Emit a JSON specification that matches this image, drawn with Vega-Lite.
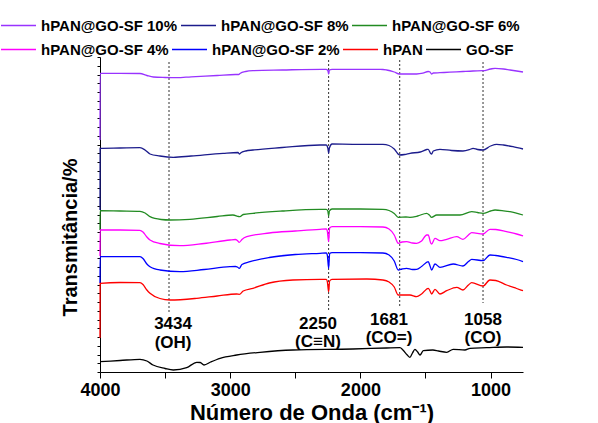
{
"$schema": "https://vega.github.io/schema/vega-lite/v6.json",
"width": 423, "height": 315,
"autosize": "none",
"padding": {"left": 100, "top": 57, "right": 75, "bottom": 51},
"config": {"view": {"stroke": null}, "font": "Liberation Sans"},
"datasets": {"spectra": [
{"s":"hPAN@GO-SF 10%","wn":4000,"t":232},{"s":"hPAN@GO-SF 10%","wn":3999,"t":298.7},{"s":"hPAN@GO-SF 10%","wn":3846,"t":298.7},{"s":"hPAN@GO-SF 10%","wn":3693,"t":298.5},{"s":"hPAN@GO-SF 10%","wn":3640,"t":296.5},{"s":"hPAN@GO-SF 10%","wn":3590,"t":295},{"s":"hPAN@GO-SF 10%","wn":3500,"t":294.5},{"s":"hPAN@GO-SF 10%","wn":3411,"t":294.3},{"s":"hPAN@GO-SF 10%","wn":3300,"t":295.2},{"s":"hPAN@GO-SF 10%","wn":3100,"t":296.5},{"s":"hPAN@GO-SF 10%","wn":2960,"t":297.5},{"s":"hPAN@GO-SF 10%","wn":2935,"t":297.5},{"s":"hPAN@GO-SF 10%","wn":2925,"t":298.5},{"s":"hPAN@GO-SF 10%","wn":2880,"t":300.5},{"s":"hPAN@GO-SF 10%","wn":2825,"t":301.3},{"s":"hPAN@GO-SF 10%","wn":2600,"t":302},{"s":"hPAN@GO-SF 10%","wn":2300,"t":302.7},{"s":"hPAN@GO-SF 10%","wn":2264,"t":302.7},{"s":"hPAN@GO-SF 10%","wn":2250,"t":301.5},{"s":"hPAN@GO-SF 10%","wn":2244,"t":298},{"s":"hPAN@GO-SF 10%","wn":2238,"t":302},{"s":"hPAN@GO-SF 10%","wn":2218,"t":302.7},{"s":"hPAN@GO-SF 10%","wn":2057,"t":302.7},{"s":"hPAN@GO-SF 10%","wn":1827,"t":302.5},{"s":"hPAN@GO-SF 10%","wn":1798,"t":302},{"s":"hPAN@GO-SF 10%","wn":1740,"t":300},{"s":"hPAN@GO-SF 10%","wn":1700,"t":298},{"s":"hPAN@GO-SF 10%","wn":1645,"t":298},{"s":"hPAN@GO-SF 10%","wn":1568,"t":298},{"s":"hPAN@GO-SF 10%","wn":1520,"t":298.8},{"s":"hPAN@GO-SF 10%","wn":1479,"t":300.5},{"s":"hPAN@GO-SF 10%","wn":1465,"t":300},{"s":"hPAN@GO-SF 10%","wn":1453,"t":298},{"s":"hPAN@GO-SF 10%","wn":1440,"t":299},{"s":"hPAN@GO-SF 10%","wn":1389,"t":299.3},{"s":"hPAN@GO-SF 10%","wn":1312,"t":299.8},{"s":"hPAN@GO-SF 10%","wn":1212,"t":300.5},{"s":"hPAN@GO-SF 10%","wn":1135,"t":301},{"s":"hPAN@GO-SF 10%","wn":1058,"t":301.3},{"s":"hPAN@GO-SF 10%","wn":1000,"t":303},{"s":"hPAN@GO-SF 10%","wn":966,"t":303.7},{"s":"hPAN@GO-SF 10%","wn":900,"t":303},{"s":"hPAN@GO-SF 10%","wn":851,"t":302},{"s":"hPAN@GO-SF 10%","wn":800,"t":301},{"s":"hPAN@GO-SF 10%","wn":751,"t":300},
{"s":"hPAN@GO-SF 8%","wn":4000,"t":162},{"s":"hPAN@GO-SF 8%","wn":3999,"t":223.7},{"s":"hPAN@GO-SF 8%","wn":3846,"t":224},{"s":"hPAN@GO-SF 8%","wn":3693,"t":224.3},{"s":"hPAN@GO-SF 8%","wn":3654,"t":222},{"s":"hPAN@GO-SF 8%","wn":3616,"t":218},{"s":"hPAN@GO-SF 8%","wn":3540,"t":216},{"s":"hPAN@GO-SF 8%","wn":3437,"t":214.7},{"s":"hPAN@GO-SF 8%","wn":3300,"t":216},{"s":"hPAN@GO-SF 8%","wn":3055,"t":218.7},{"s":"hPAN@GO-SF 8%","wn":2940,"t":219.5},{"s":"hPAN@GO-SF 8%","wn":2930,"t":218},{"s":"hPAN@GO-SF 8%","wn":2920,"t":219},{"s":"hPAN@GO-SF 8%","wn":2880,"t":221},{"s":"hPAN@GO-SF 8%","wn":2825,"t":222},{"s":"hPAN@GO-SF 8%","wn":2600,"t":224.5},{"s":"hPAN@GO-SF 8%","wn":2310,"t":227},{"s":"hPAN@GO-SF 8%","wn":2262,"t":227},{"s":"hPAN@GO-SF 8%","wn":2250,"t":224},{"s":"hPAN@GO-SF 8%","wn":2244,"t":218.7},{"s":"hPAN@GO-SF 8%","wn":2238,"t":224},{"s":"hPAN@GO-SF 8%","wn":2218,"t":228},{"s":"hPAN@GO-SF 8%","wn":2057,"t":227.7},{"s":"hPAN@GO-SF 8%","wn":1827,"t":227.7},{"s":"hPAN@GO-SF 8%","wn":1780,"t":226.5},{"s":"hPAN@GO-SF 8%","wn":1740,"t":223},{"s":"hPAN@GO-SF 8%","wn":1700,"t":217},{"s":"hPAN@GO-SF 8%","wn":1660,"t":217.5},{"s":"hPAN@GO-SF 8%","wn":1619,"t":218.7},{"s":"hPAN@GO-SF 8%","wn":1540,"t":220},{"s":"hPAN@GO-SF 8%","wn":1490,"t":222.5},{"s":"hPAN@GO-SF 8%","wn":1479,"t":222.7},{"s":"hPAN@GO-SF 8%","wn":1460,"t":218.5},{"s":"hPAN@GO-SF 8%","wn":1453,"t":218},{"s":"hPAN@GO-SF 8%","wn":1440,"t":221},{"s":"hPAN@GO-SF 8%","wn":1389,"t":222.7},{"s":"hPAN@GO-SF 8%","wn":1300,"t":221.5},{"s":"hPAN@GO-SF 8%","wn":1212,"t":221},{"s":"hPAN@GO-SF 8%","wn":1160,"t":222.5},{"s":"hPAN@GO-SF 8%","wn":1135,"t":223.7},{"s":"hPAN@GO-SF 8%","wn":1100,"t":222.5},{"s":"hPAN@GO-SF 8%","wn":1058,"t":222},{"s":"hPAN@GO-SF 8%","wn":1000,"t":226},{"s":"hPAN@GO-SF 8%","wn":953,"t":227.7},{"s":"hPAN@GO-SF 8%","wn":900,"t":227},{"s":"hPAN@GO-SF 8%","wn":828,"t":225.3},{"s":"hPAN@GO-SF 8%","wn":751,"t":223},
{"s":"hPAN@GO-SF 6%","wn":4000,"t":142},{"s":"hPAN@GO-SF 6%","wn":3999,"t":161.3},{"s":"hPAN@GO-SF 6%","wn":3846,"t":161},{"s":"hPAN@GO-SF 6%","wn":3693,"t":160.7},{"s":"hPAN@GO-SF 6%","wn":3654,"t":159},{"s":"hPAN@GO-SF 6%","wn":3616,"t":155.3},{"s":"hPAN@GO-SF 6%","wn":3530,"t":152.5},{"s":"hPAN@GO-SF 6%","wn":3462,"t":152},{"s":"hPAN@GO-SF 6%","wn":3309,"t":152.7},{"s":"hPAN@GO-SF 6%","wn":3100,"t":155.5},{"s":"hPAN@GO-SF 6%","wn":2979,"t":157},{"s":"hPAN@GO-SF 6%","wn":2935,"t":155.5},{"s":"hPAN@GO-SF 6%","wn":2925,"t":155.3},{"s":"hPAN@GO-SF 6%","wn":2900,"t":157.5},{"s":"hPAN@GO-SF 6%","wn":2825,"t":158.7},{"s":"hPAN@GO-SF 6%","wn":2600,"t":161},{"s":"hPAN@GO-SF 6%","wn":2310,"t":162.7},{"s":"hPAN@GO-SF 6%","wn":2262,"t":162.7},{"s":"hPAN@GO-SF 6%","wn":2250,"t":161},{"s":"hPAN@GO-SF 6%","wn":2244,"t":156},{"s":"hPAN@GO-SF 6%","wn":2238,"t":161},{"s":"hPAN@GO-SF 6%","wn":2218,"t":163},{"s":"hPAN@GO-SF 6%","wn":2000,"t":163},{"s":"hPAN@GO-SF 6%","wn":1827,"t":162.7},{"s":"hPAN@GO-SF 6%","wn":1780,"t":161.5},{"s":"hPAN@GO-SF 6%","wn":1740,"t":158.5},{"s":"hPAN@GO-SF 6%","wn":1709,"t":154.7},{"s":"hPAN@GO-SF 6%","wn":1650,"t":155},{"s":"hPAN@GO-SF 6%","wn":1619,"t":154.7},{"s":"hPAN@GO-SF 6%","wn":1560,"t":156},{"s":"hPAN@GO-SF 6%","wn":1491,"t":158.7},{"s":"hPAN@GO-SF 6%","wn":1470,"t":157},{"s":"hPAN@GO-SF 6%","wn":1453,"t":154.7},{"s":"hPAN@GO-SF 6%","wn":1414,"t":157},{"s":"hPAN@GO-SF 6%","wn":1312,"t":157},{"s":"hPAN@GO-SF 6%","wn":1235,"t":157},{"s":"hPAN@GO-SF 6%","wn":1145,"t":160.3},{"s":"hPAN@GO-SF 6%","wn":1100,"t":159.5},{"s":"hPAN@GO-SF 6%","wn":1058,"t":158.7},{"s":"hPAN@GO-SF 6%","wn":1000,"t":161},{"s":"hPAN@GO-SF 6%","wn":966,"t":162},{"s":"hPAN@GO-SF 6%","wn":900,"t":161.2},{"s":"hPAN@GO-SF 6%","wn":851,"t":160.3},{"s":"hPAN@GO-SF 6%","wn":751,"t":157},
{"s":"hPAN@GO-SF 4%","wn":4000,"t":116},{"s":"hPAN@GO-SF 4%","wn":3999,"t":142},{"s":"hPAN@GO-SF 4%","wn":3846,"t":142},{"s":"hPAN@GO-SF 4%","wn":3693,"t":141.7},{"s":"hPAN@GO-SF 4%","wn":3670,"t":140},{"s":"hPAN@GO-SF 4%","wn":3640,"t":135},{"s":"hPAN@GO-SF 4%","wn":3616,"t":132},{"s":"hPAN@GO-SF 4%","wn":3540,"t":128.5},{"s":"hPAN@GO-SF 4%","wn":3386,"t":126.3},{"s":"hPAN@GO-SF 4%","wn":3200,"t":128.5},{"s":"hPAN@GO-SF 4%","wn":3002,"t":132},{"s":"hPAN@GO-SF 4%","wn":2960,"t":132.5},{"s":"hPAN@GO-SF 4%","wn":2945,"t":131.5},{"s":"hPAN@GO-SF 4%","wn":2930,"t":129.7},{"s":"hPAN@GO-SF 4%","wn":2910,"t":132.5},{"s":"hPAN@GO-SF 4%","wn":2873,"t":135.3},{"s":"hPAN@GO-SF 4%","wn":2700,"t":139},{"s":"hPAN@GO-SF 4%","wn":2500,"t":141},{"s":"hPAN@GO-SF 4%","wn":2310,"t":142.7},{"s":"hPAN@GO-SF 4%","wn":2262,"t":143},{"s":"hPAN@GO-SF 4%","wn":2254,"t":141},{"s":"hPAN@GO-SF 4%","wn":2244,"t":130.3},{"s":"hPAN@GO-SF 4%","wn":2236,"t":144},{"s":"hPAN@GO-SF 4%","wn":2218,"t":145.3},{"s":"hPAN@GO-SF 4%","wn":2000,"t":145.3},{"s":"hPAN@GO-SF 4%","wn":1827,"t":145},{"s":"hPAN@GO-SF 4%","wn":1780,"t":143},{"s":"hPAN@GO-SF 4%","wn":1740,"t":137},{"s":"hPAN@GO-SF 4%","wn":1709,"t":128.7},{"s":"hPAN@GO-SF 4%","wn":1680,"t":130},{"s":"hPAN@GO-SF 4%","wn":1645,"t":130.3},{"s":"hPAN@GO-SF 4%","wn":1600,"t":129},{"s":"hPAN@GO-SF 4%","wn":1568,"t":128.7},{"s":"hPAN@GO-SF 4%","wn":1530,"t":131},{"s":"hPAN@GO-SF 4%","wn":1491,"t":137},{"s":"hPAN@GO-SF 4%","wn":1479,"t":137},{"s":"hPAN@GO-SF 4%","wn":1460,"t":129},{"s":"hPAN@GO-SF 4%","wn":1453,"t":128},{"s":"hPAN@GO-SF 4%","wn":1427,"t":133.7},{"s":"hPAN@GO-SF 4%","wn":1389,"t":131.3},{"s":"hPAN@GO-SF 4%","wn":1337,"t":132.7},{"s":"hPAN@GO-SF 4%","wn":1260,"t":135.3},{"s":"hPAN@GO-SF 4%","wn":1212,"t":132.7},{"s":"hPAN@GO-SF 4%","wn":1170,"t":137},{"s":"hPAN@GO-SF 4%","wn":1145,"t":139.3},{"s":"hPAN@GO-SF 4%","wn":1058,"t":138},{"s":"hPAN@GO-SF 4%","wn":1005,"t":142.7},{"s":"hPAN@GO-SF 4%","wn":960,"t":142.5},{"s":"hPAN@GO-SF 4%","wn":877,"t":140.3},{"s":"hPAN@GO-SF 4%","wn":800,"t":138},{"s":"hPAN@GO-SF 4%","wn":751,"t":136},
{"s":"hPAN@GO-SF 2%","wn":4000,"t":89},{"s":"hPAN@GO-SF 2%","wn":3999,"t":115.3},{"s":"hPAN@GO-SF 2%","wn":3846,"t":115.3},{"s":"hPAN@GO-SF 2%","wn":3693,"t":115.3},{"s":"hPAN@GO-SF 2%","wn":3670,"t":113.5},{"s":"hPAN@GO-SF 2%","wn":3640,"t":108},{"s":"hPAN@GO-SF 2%","wn":3616,"t":105.3},{"s":"hPAN@GO-SF 2%","wn":3540,"t":102},{"s":"hPAN@GO-SF 2%","wn":3386,"t":100.3},{"s":"hPAN@GO-SF 2%","wn":3200,"t":102.5},{"s":"hPAN@GO-SF 2%","wn":3002,"t":105.3},{"s":"hPAN@GO-SF 2%","wn":2960,"t":105.5},{"s":"hPAN@GO-SF 2%","wn":2945,"t":105},{"s":"hPAN@GO-SF 2%","wn":2930,"t":103.7},{"s":"hPAN@GO-SF 2%","wn":2910,"t":107.5},{"s":"hPAN@GO-SF 2%","wn":2848,"t":110.3},{"s":"hPAN@GO-SF 2%","wn":2700,"t":114.5},{"s":"hPAN@GO-SF 2%","wn":2500,"t":117.5},{"s":"hPAN@GO-SF 2%","wn":2310,"t":118.7},{"s":"hPAN@GO-SF 2%","wn":2262,"t":119},{"s":"hPAN@GO-SF 2%","wn":2254,"t":117},{"s":"hPAN@GO-SF 2%","wn":2244,"t":103.7},{"s":"hPAN@GO-SF 2%","wn":2236,"t":118.5},{"s":"hPAN@GO-SF 2%","wn":2218,"t":119.3},{"s":"hPAN@GO-SF 2%","wn":2000,"t":119.3},{"s":"hPAN@GO-SF 2%","wn":1827,"t":119},{"s":"hPAN@GO-SF 2%","wn":1780,"t":117},{"s":"hPAN@GO-SF 2%","wn":1740,"t":111},{"s":"hPAN@GO-SF 2%","wn":1709,"t":102},{"s":"hPAN@GO-SF 2%","wn":1680,"t":103},{"s":"hPAN@GO-SF 2%","wn":1645,"t":103.7},{"s":"hPAN@GO-SF 2%","wn":1600,"t":102.5},{"s":"hPAN@GO-SF 2%","wn":1568,"t":102.7},{"s":"hPAN@GO-SF 2%","wn":1530,"t":105.5},{"s":"hPAN@GO-SF 2%","wn":1479,"t":110.3},{"s":"hPAN@GO-SF 2%","wn":1465,"t":106},{"s":"hPAN@GO-SF 2%","wn":1453,"t":102},{"s":"hPAN@GO-SF 2%","wn":1427,"t":108},{"s":"hPAN@GO-SF 2%","wn":1389,"t":104.7},{"s":"hPAN@GO-SF 2%","wn":1287,"t":108},{"s":"hPAN@GO-SF 2%","wn":1212,"t":106},{"s":"hPAN@GO-SF 2%","wn":1170,"t":110.5},{"s":"hPAN@GO-SF 2%","wn":1145,"t":112.7},{"s":"hPAN@GO-SF 2%","wn":1058,"t":111.3},{"s":"hPAN@GO-SF 2%","wn":1005,"t":117},{"s":"hPAN@GO-SF 2%","wn":960,"t":116.5},{"s":"hPAN@GO-SF 2%","wn":877,"t":114.7},{"s":"hPAN@GO-SF 2%","wn":800,"t":112.5},{"s":"hPAN@GO-SF 2%","wn":751,"t":110.3},
{"s":"hPAN","wn":4000,"t":34},{"s":"hPAN","wn":3999,"t":88.7},{"s":"hPAN","wn":3846,"t":89.5},{"s":"hPAN","wn":3693,"t":89.3},{"s":"hPAN","wn":3670,"t":87.5},{"s":"hPAN","wn":3640,"t":82},{"s":"hPAN","wn":3616,"t":78.7},{"s":"hPAN","wn":3540,"t":73.5},{"s":"hPAN","wn":3462,"t":72},{"s":"hPAN","wn":3257,"t":73.7},{"s":"hPAN","wn":3100,"t":76},{"s":"hPAN","wn":2950,"t":78},{"s":"hPAN","wn":2930,"t":77.7},{"s":"hPAN","wn":2900,"t":81},{"s":"hPAN","wn":2825,"t":83.7},{"s":"hPAN","wn":2700,"t":89},{"s":"hPAN","wn":2518,"t":92},{"s":"hPAN","wn":2310,"t":92.7},{"s":"hPAN","wn":2262,"t":92.7},{"s":"hPAN","wn":2254,"t":90.5},{"s":"hPAN","wn":2244,"t":80.3},{"s":"hPAN","wn":2236,"t":91},{"s":"hPAN","wn":2218,"t":92.7},{"s":"hPAN","wn":1950,"t":93},{"s":"hPAN","wn":1827,"t":92},{"s":"hPAN","wn":1780,"t":90},{"s":"hPAN","wn":1740,"t":85},{"s":"hPAN","wn":1709,"t":77},{"s":"hPAN","wn":1619,"t":77},{"s":"hPAN","wn":1568,"t":75.3},{"s":"hPAN","wn":1530,"t":78},{"s":"hPAN","wn":1479,"t":83.7},{"s":"hPAN","wn":1465,"t":81},{"s":"hPAN","wn":1453,"t":78},{"s":"hPAN","wn":1427,"t":82.7},{"s":"hPAN","wn":1389,"t":78},{"s":"hPAN","wn":1337,"t":81.3},{"s":"hPAN","wn":1260,"t":84.7},{"s":"hPAN","wn":1212,"t":82},{"s":"hPAN","wn":1170,"t":87},{"s":"hPAN","wn":1145,"t":89.3},{"s":"hPAN","wn":1058,"t":86},{"s":"hPAN","wn":1005,"t":92},{"s":"hPAN","wn":960,"t":91.5},{"s":"hPAN","wn":877,"t":87},{"s":"hPAN","wn":800,"t":83.5},{"s":"hPAN","wn":751,"t":81.3},
{"s":"GO-SF","wn":4000,"t":10.3},{"s":"GO-SF","wn":3846,"t":11.5},{"s":"GO-SF","wn":3693,"t":12.7},{"s":"GO-SF","wn":3640,"t":11},{"s":"GO-SF","wn":3593,"t":7},{"s":"GO-SF","wn":3500,"t":3.5},{"s":"GO-SF","wn":3437,"t":2},{"s":"GO-SF","wn":3334,"t":4.3},{"s":"GO-SF","wn":3257,"t":9.7},{"s":"GO-SF","wn":3230,"t":9.5},{"s":"GO-SF","wn":3201,"t":7},{"s":"GO-SF","wn":3150,"t":10},{"s":"GO-SF","wn":3078,"t":13.7},{"s":"GO-SF","wn":2950,"t":17},{"s":"GO-SF","wn":2771,"t":19.7},{"s":"GO-SF","wn":2518,"t":22},{"s":"GO-SF","wn":2057,"t":23},{"s":"GO-SF","wn":1800,"t":24},{"s":"GO-SF","wn":1696,"t":24.3},{"s":"GO-SF","wn":1673,"t":22},{"s":"GO-SF","wn":1640,"t":17},{"s":"GO-SF","wn":1619,"t":14.7},{"s":"GO-SF","wn":1600,"t":19},{"s":"GO-SF","wn":1581,"t":22.7},{"s":"GO-SF","wn":1560,"t":20},{"s":"GO-SF","wn":1542,"t":17},{"s":"GO-SF","wn":1517,"t":21.3},{"s":"GO-SF","wn":1443,"t":22},{"s":"GO-SF","wn":1400,"t":21},{"s":"GO-SF","wn":1337,"t":19.7},{"s":"GO-SF","wn":1287,"t":22.7},{"s":"GO-SF","wn":1197,"t":22},{"s":"GO-SF","wn":1158,"t":23.7},{"s":"GO-SF","wn":1030,"t":24.3},{"s":"GO-SF","wn":877,"t":25},{"s":"GO-SF","wn":751,"t":24.7}
]},
"encoding": {
  "x": {"field": "wn", "type": "quantitative",
    "scale": {"domain": [4000, 751], "nice": false, "zero": false},
    "axis": {"title": "Número de Onda (cm⁻¹)", "values": [4000, 3500, 3000, 2500, 2000, 1500, 1000], "format": "d",
      "labelExpr": "datum.value % 1000 === 0 ? datum.label : ''",
      "grid": false, "tickSize": 6, "tickColor": "black", "domainColor": "black",
      "labelFontSize": 18, "labelFontWeight": "bold", "labelColor": "black", "labelPadding": 3, "labelFlush": false, "labelOverlap": false,
      "titleFontSize": 22, "titleFontWeight": "bold", "titleColor": "black", "titlePadding": 3}},
  "y": {"field": "t", "type": "quantitative",
    "scale": {"domain": [0, 315], "nice": false, "zero": false},
    "axis": {"title": "Transmitância/%", "labels": false, "grid": false, "tickSize": 3, "tickColor": "black", "domainColor": "black",
      "values": [0, 8.75, 17.5, 26.25, 35, 43.75, 52.5, 61.25, 70, 78.75, 87.5, 96.25, 105, 113.75, 122.5, 131.25, 140, 148.75, 157.5, 166.25, 175, 183.75, 192.5, 201.25, 210, 218.75, 227.5, 236.25, 245, 253.75, 262.5, 271.25, 280, 288.75, 297.5, 306.25, 315],
      "titleFontSize": 20, "titleFontWeight": "bold", "titleColor": "black",
      "titleX": -30, "titleY": 180, "titleAngle": 270, "titleAlign": "center", "titleBaseline": "middle"}}
},
"layer": [
  {"data": {"values": [{"wn": 3470, "t": 310, "t2": 59}, {"wn": 2244, "t": 312, "t2": 62}, {"wn": 1698, "t": 312, "t2": 64}, {"wn": 1058, "t": 310, "t2": 69}]},
   "mark": {"type": "rule", "strokeDash": [2, 2], "color": "#333333", "strokeWidth": 1},
   "encoding": {"y2": {"field": "t2"}}},
  {"data": {"name": "spectra"},
   "transform": [{"filter": "indexof(['hPAN@GO-SF 10%','hPAN@GO-SF 8%','hPAN@GO-SF 6%'], datum.s) >= 0"}],
   "mark": {"type": "line", "strokeWidth": 1.3, "interpolate": "monotone"},
   "encoding": {"color": {"field": "s", "type": "nominal",
     "scale": {"domain": ["hPAN@GO-SF 10%", "hPAN@GO-SF 8%", "hPAN@GO-SF 6%"], "range": ["#9933ff", "#1c1c8c", "#228b22"]},
     "legend": {"orient": "none", "legendX": -100, "legendY": -50, "direction": "horizontal", "columns": 3, "title": null,
       "symbolType": "stroke", "symbolSize": 1225, "symbolStrokeWidth": 1.5, "labelFontSize": 15, "labelFontWeight": "bold", "labelColor": "black",
       "labelOffset": 4, "columnPadding": 0, "gridAlign": "none", "padding": 0, "labelLimit": 300}}}},
  {"data": {"name": "spectra"},
   "transform": [{"filter": "indexof(['hPAN@GO-SF 4%','hPAN@GO-SF 2%','hPAN','GO-SF'], datum.s) >= 0"}],
   "mark": {"type": "line", "strokeWidth": 1.3, "interpolate": "monotone"},
   "encoding": {"color": {"field": "s", "type": "nominal",
     "scale": {"domain": ["hPAN@GO-SF 4%", "hPAN@GO-SF 2%", "hPAN", "GO-SF"], "range": ["#ff00ff", "#0000ff", "#ff0000", "#000000"]},
     "legend": {"orient": "none", "legendX": -100, "legendY": -26, "direction": "horizontal", "columns": 4, "title": null,
       "symbolType": "stroke", "symbolSize": 1225, "symbolStrokeWidth": 1.5, "labelFontSize": 15, "labelFontWeight": "bold", "labelColor": "black",
       "labelOffset": 4, "columnPadding": 0, "gridAlign": "none", "padding": 0, "labelLimit": 300}}}},
  {"data": {"values": [
     {"wn": 3439, "t": 48, "label": "3434"}, {"wn": 3439, "t": 29, "label": "(OH)"},
     {"wn": 2326, "t": 48, "label": "2250"}, {"wn": 2326, "t": 30, "label": "(C≡N)"},
     {"wn": 1780, "t": 52, "label": "1681"}, {"wn": 1780, "t": 34, "label": "(CO=)"},
     {"wn": 1058, "t": 52, "label": "1058"}, {"wn": 1058, "t": 34, "label": "(CO)"}]},
   "mark": {"type": "text", "fontSize": 17, "fontWeight": "bold", "color": "black", "align": "center", "baseline": "middle"},
   "encoding": {"text": {"field": "label"}}}
],
"resolve": {"scale": {"color": "independent"}}
}
